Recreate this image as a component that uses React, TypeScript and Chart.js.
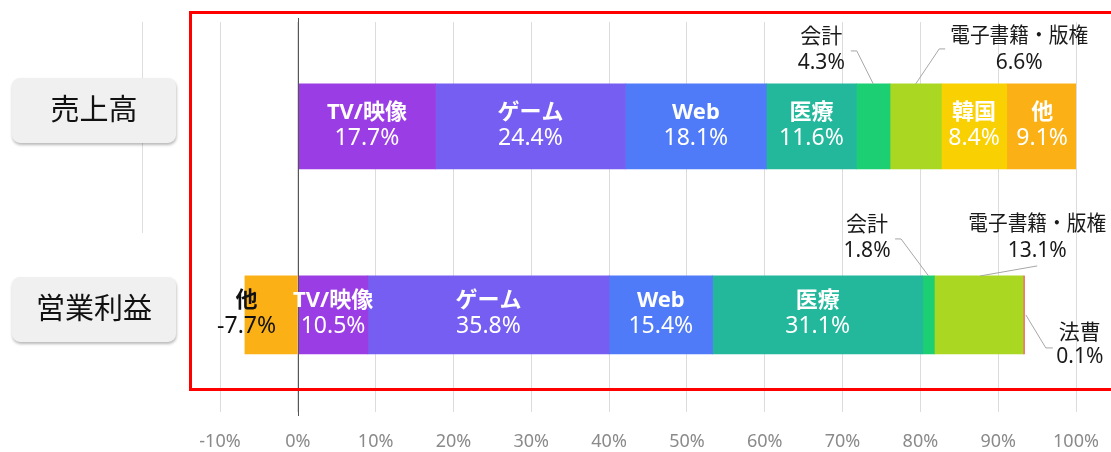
import React, { useEffect, useRef } from 'react';
import { Chart, registerables } from 'chart.js';

Chart.register(...registerables);

// ---------- data ----------
const categories = ['売上高', '営業利益'];

const salesSegments = ['TV/映像', 'ゲーム', 'Web', '医療', '会計', '電子書籍・版権', '韓国', '他'];
const salesShare = [17.7, 24.4, 18.1, 11.6, 4.3, 6.6, 8.4, 9.1];

const profitSegments = ['他', 'TV/映像', 'ゲーム', 'Web', '医療', '会計', '電子書籍・版権', '法曹'];
// shares printed in the labels
const profitShare = [-7.7, 10.5, 35.8, 15.4, 31.1, 1.8, 13.1, 0.1];
// bar lengths as drawn in the picture (percent of axis)
const profitBarLength = [-6.8, 9.0, 31.0, 13.3, 27.0, 1.5, 11.4, 0.1];

const xTickValues = [-10, 0, 10, 20, 30, 40, 50, 60, 70, 80, 90, 100];

// ---------- styles ----------
const segmentColors: Record<string, string> = {
  'TV/映像': '#9b3de4',
  'ゲーム': '#775ef2',
  'Web': '#4f7af8',
  '医療': '#23b79b',
  '会計': '#1ccf72',
  '電子書籍・版権': '#aad822',
  '韓国': '#f9d001',
  '他': '#fbb116',
  '法曹': '#f46b6b',
};

const FONT = '"Noto Sans", "Noto Sans CJK JP", sans-serif';
const BAR_THICKNESS = [85, 78];
const CATEGORY_BOX_DY = [-16, -5.5];
const CALLOUT_MAX_WIDTH = 138;

// callouts placed outside the bars: offsets relative to bar middle-x / top-y
type Callout = { path: number[][]; dx: number; dy1: number; dy2: number };
const callouts: Record<string, Callout> = {
  '0:会計': { path: [[-22.5, -33], [-16.5, -33], [0, 0]], dx: -52, dy1: -47, dy2: -21 },
  '0:電子書籍・版権': { path: [[29.5, -35], [23.5, -35], [0, 0]], dx: 103.5, dy1: -48, dy2: -21 },
  '1:会計': { path: [[-33.5, -37], [-27.5, -37], [0, 0]], dx: -61.5, dy1: -51, dy2: -25 },
  '1:電子書籍・版権': { path: [[58.5, -10], [1.5, 0]], dx: 58.5, dy1: -52, dy2: -25 },
  '1:法曹': { path: [[2, 39], [22, 72], [29, 72]], dx: 56, dy1: 57, dy2: 81 },
};
const insideOverrides: Record<string, { dx: number; color: string }> = {
  '1:他': { dx: -24.5, color: '#111111' },
};

function fmt(v: number) {
  return `${v.toFixed(1)}%`;
}

const labelPlugin = {
  id: 'customDraw',
  beforeDatasetsDraw(chart: any) {
    const { ctx, chartArea, scales } = chart;
    const x = scales.x;
    // faint extra gridline at -20%
    const px = Math.round(x.getPixelForValue(-20)) + 0.5;
    ctx.save();
    ctx.strokeStyle = '#dedede';
    ctx.lineWidth = 1;
    ctx.beginPath();
    ctx.moveTo(px, chartArea.top);
    ctx.lineTo(px, chartArea.top + 211);
    ctx.stroke();
    ctx.restore();
  },
  afterDatasetsDraw(chart: any) {
    const { ctx, chartArea, scales } = chart;
    const x = scales.x;
    ctx.save();
    // zero axis line
    const zx = Math.round(x.getPixelForValue(0)) + 0.5;
    ctx.strokeStyle = '#555555';
    ctx.lineWidth = 1;
    ctx.beginPath();
    ctx.moveTo(zx, chartArea.top - 4);
    ctx.lineTo(zx, chartArea.bottom + 4);
    ctx.stroke();

    ctx.textAlign = 'center';
    ctx.textBaseline = 'middle';
    chart.data.datasets.forEach((ds: any, di: number) => {
      const meta = chart.getDatasetMeta(di);
      const el: any = meta.data[0];
      if (!el) return;
      const key = `${ds.catIndex}:${ds.label}`;
      const mid = (el.x + el.base) / 2;
      const top = el.y - el.height / 2;
      const text2 = fmt(ds.share);
      const co = callouts[key];
      if (co) {
        ctx.strokeStyle = '#a6a6a6';
        ctx.lineWidth = 1;
        ctx.beginPath();
        co.path.forEach((p, i) => {
          const X = mid + p[0];
          const Y = top + p[1];
          if (i === 0) ctx.moveTo(X, Y);
          else ctx.lineTo(X, Y);
        });
        ctx.stroke();
        ctx.fillStyle = '#1a1a1a';
        ctx.font = `400 21px ${FONT}`;
        ctx.fillText(ds.label, mid + co.dx, top + co.dy1, CALLOUT_MAX_WIDTH);
        ctx.fillText(text2, mid + co.dx, top + co.dy2, CALLOUT_MAX_WIDTH);
      } else {
        const ov = insideOverrides[key];
        const cx = mid + (ov ? ov.dx : 0);
        ctx.fillStyle = ov ? ov.color : '#ffffff';
        ctx.font = `700 22px ${FONT}`;
        ctx.fillText(ds.label, cx, el.y - 14);
        ctx.font = `400 23px ${FONT}`;
        ctx.fillText(text2, cx, el.y + 12);
      }
    });
    ctx.restore();
  },
  afterDraw(chart: any) {
    const { ctx, chartArea, scales, width } = chart;
    const y = scales.y;
    ctx.save();
    // category label boxes
    categories.forEach((name, i) => {
      const cy = y.getPixelForValue(i) + CATEGORY_BOX_DY[i];
      const bx = 12, bw = 164, bh = 65;
      const by = cy - bh / 2;
      ctx.save();
      ctx.shadowColor = 'rgba(0,0,0,0.28)';
      ctx.shadowBlur = 3;
      ctx.shadowOffsetX = 0.5;
      ctx.shadowOffsetY = 2;
      ctx.fillStyle = '#f0f0f0';
      ctx.beginPath();
      (ctx as any).roundRect(bx, by, bw, bh, 8);
      ctx.fill();
      ctx.restore();
      ctx.fillStyle = '#111111';
      ctx.font = `400 29px ${FONT}`;
      ctx.textAlign = 'center';
      ctx.textBaseline = 'middle';
      ctx.fillText(name, bx + bw / 2, cy + 1);
    });
    // red highlight frame
    ctx.strokeStyle = '#ff0000';
    ctx.lineWidth = 3;
    const l = chartArea.left - 29.5;
    const t = chartArea.top - 9.5;
    const b = chartArea.bottom - 22.5;
    ctx.strokeRect(l, t, width + 10 - l, b - t);
    ctx.restore();
  },
};

export default function App() {
  const ref = useRef<HTMLCanvasElement | null>(null);

  useEffect(() => {
    document.body.style.margin = '0';
    const canvas = ref.current;
    if (!canvas) return;

    const datasets: any[] = [];
    salesSegments.forEach((name, i) => {
      datasets.push({
        label: name,
        catIndex: 0,
        share: salesShare[i],
        data: [{ x: salesShare[i], y: 0 }],
        backgroundColor: segmentColors[name],
        barThickness: BAR_THICKNESS[0],
        borderWidth: 0,
      });
    });
    profitSegments.forEach((name, i) => {
      datasets.push({
        label: name,
        catIndex: 1,
        share: profitShare[i],
        data: [{ x: profitBarLength[i], y: 1 }],
        backgroundColor: segmentColors[name],
        barThickness: BAR_THICKNESS[1],
        minBarLength: 1.5,
        borderWidth: 0,
      });
    });

    const chart = new Chart(canvas, {
      type: 'bar',
      data: { datasets },
      options: {
        indexAxis: 'y',
        animation: false,
        responsive: false,
        maintainAspectRatio: false,
        layout: { padding: { left: 220, right: 35, top: 22, bottom: 0 } },
        plugins: {
          legend: { display: false },
          tooltip: { enabled: false },
        },
        scales: {
          x: {
            type: 'linear',
            stacked: true,
            min: xTickValues[0],
            max: xTickValues[xTickValues.length - 1],
            afterFit: (s: any) => {
              s.height = 40;
              s.paddingLeft = 0;
              s.paddingRight = 0;
            },
            afterBuildTicks: (s: any) => {
              s.ticks = xTickValues.map((v) => ({ value: v }));
            },
            grid: { color: '#dcdcdc', drawTicks: false, lineWidth: 1 },
            border: { display: false },
            ticks: {
              color: '#8a8a8a',
              font: { family: FONT, size: 18 },
              padding: 19,
              maxRotation: 0,
              callback: (v: any) => `${v}%`,
            },
          },
          y: {
            type: 'linear',
            stacked: true,
            reverse: true,
            offset: false,
            grace: 0,
            bounds: 'data',
            min: -0.554,
            max: 1.515,
            display: false,
            grid: { offset: false },
          },
        },
      } as any,
      plugins: [labelPlugin],
    });
    return () => chart.destroy();
  }, []);

  return (
    <div style={{ width: 1111, height: 452, position: 'relative' }}>
      <canvas ref={ref} width={1111} height={452} style={{ display: 'block' }} />
    </div>
  );
}
